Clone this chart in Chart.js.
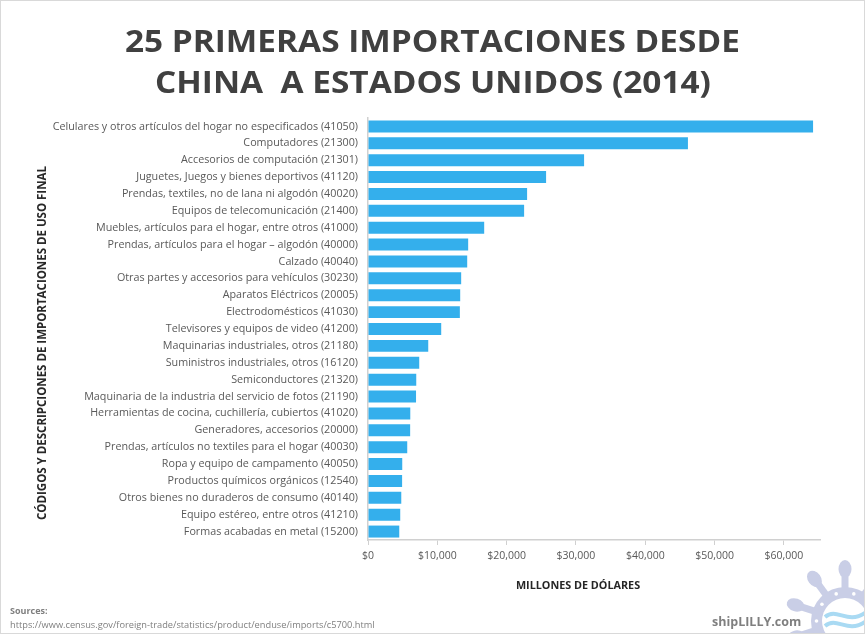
<!DOCTYPE html>
<html>
<head>
<meta charset="utf-8">
<script src="https://cdn.jsdelivr.net/npm/chart.js@4"></script>
<style>
  body { margin: 0; background: #fff; }
  #wrap { position: relative; width: 865px; height: 634px; overflow: hidden; font-family: "Open Sans", sans-serif; }
  #wrap canvas { position: absolute; left: 0; top: 0; }
  #frame { position: absolute; left: 0; top: 0; width: 863px; height: 632px; border: 1px solid #d9d9d9; pointer-events: none; }
  .title { position: absolute; left: 0; width: 865px; text-align: center; font-weight: 700; font-size: 31px; line-height: 42px; color: #404040; white-space: nowrap; }
  .title span { display: inline-block; transform-origin: center; }
  .axt { position: absolute; font-weight: 700; color: #262626; white-space: nowrap; line-height: 14px; }
  #ytit { left: 42px; top: 343px; font-size: 11.5px; transform: translate(-50%, -50%) rotate(-90deg); }
  #xtit { left: 578px; top: 585px; font-size: 10.8px; transform: translate(-50%, -50%); }
  #src1 { position: absolute; left: 10px; top: 604px; font-size: 9px; font-weight: 700; color: #7f7f7f; }
  #src2 { position: absolute; left: 10px; top: 618px; font-size: 9.25px; color: #7f7f7f; }
  #brand { position: absolute; left: 712px; top: 613px; font-size: 12.5px; font-weight: 700; color: #7f7f7f; }
</style>
</head>
<body>
<div id="wrap">
  <canvas id="chart"></canvas>
  <div class="title" style="top:19px"><span id="t1">25 PRIMERAS IMPORTACIONES DESDE</span></div>
  <div class="title" style="top:60px"><span id="t2">CHINA&nbsp; A ESTADOS UNIDOS (2014)</span></div>
  <div class="axt" id="ytit">CÓDIGOS Y DESCRIPCIONES DE IMPORTACIONES DE USO FINAL</div>
  <div class="axt" id="xtit">MILLONES DE DÓLARES</div>
  <div id="src1">Sources:</div>
  <div id="src2">https://www.census.gov/foreign-trade/statistics/product/enduse/imports/c5700.html</div>
  <div id="brand">shipLILLY.com</div>
  <div id="frame"></div>
</div>
<script>
// categorías (descripción + código de uso final)
const nombres = [
  "Celulares y otros artículos del hogar no especificados",
  "Computadores",
  "Accesorios de computación",
  "Juguetes, Juegos y bienes deportivos",
  "Prendas, textiles, no de lana ni algodón",
  "Equipos de telecomunicación",
  "Muebles, artículos para el hogar, entre otros",
  "Prendas, artículos para el hogar – algodón",
  "Calzado",
  "Otras partes y accesorios para vehículos",
  "Aparatos Eléctricos",
  "Electrodomésticos",
  "Televisores y equipos de video",
  "Maquinarias industriales, otros",
  "Suministros industriales, otros",
  "Semiconductores",
  "Maquinaria de la industria del servicio de fotos",
  "Herramientas de cocina, cuchillería, cubiertos",
  "Generadores, accesorios",
  "Prendas, artículos no textiles para el hogar",
  "Ropa y equipo de campamento",
  "Productos químicos orgánicos",
  "Otros bienes no duraderos de consumo",
  "Equipo estéreo, entre otros",
  "Formas acabadas en metal"
];
const codigos = [41050, 21300, 21301, 41120, 40020, 21400, 41000, 40000, 40040, 30230,
  20005, 41030, 41200, 21180, 16120, 21320, 21190, 41020, 20000, 40030,
  40050, 12540, 40140, 41210, 15200];
// millones de dólares
const valores = [64200, 46150, 31170, 25690, 22950, 22520, 16760, 14450, 14310, 13440,
  13300, 13250, 10560, 8690, 7390, 6960, 6930, 6100, 6080, 5660,
  4940, 4920, 4800, 4650, 4510];
// marcas del eje x
const ticksX = [0, 10000, 20000, 30000, 40000, 50000, 60000];
const ejeMax = 65200;

const etiquetas = nombres.map((n, i) => `${n} (${codigos[i]})`);

// título condensado: ajusta el ancho como en el original
const t1 = document.getElementById("t1"), t2 = document.getElementById("t2");
const sx = 615 / t1.getBoundingClientRect().width;
t1.style.transform = t2.style.transform = `scaleX(${sx})`;

// timón del logo, de fondo
const timon = {
  id: "timon",
  beforeDraw(chart) {
    const ctx = chart.ctx, cx = 845, cy = 621;
    ctx.save();
    ctx.fillStyle = "#c9cee6";
    ctx.strokeStyle = "#c9cee6";
    for (let k = 0; k < 10; k++) {
      const a = (-90 + k * 36) * Math.PI / 180;
      ctx.lineWidth = 7;
      ctx.beginPath();
      ctx.moveTo(cx, cy);
      ctx.lineTo(cx + Math.cos(a) * 50, cy + Math.sin(a) * 50);
      ctx.stroke();
      ctx.beginPath();
      ctx.ellipse(cx + Math.cos(a) * 52, cy + Math.sin(a) * 52, 6.5, 9, a + Math.PI / 2, 0, Math.PI * 2);
      ctx.fill();
    }
    ctx.beginPath(); ctx.arc(cx, cy, 34, 0, Math.PI * 2); ctx.fill();
    ctx.fillStyle = "#fff";
    ctx.beginPath(); ctx.arc(cx, cy, 23, 0, Math.PI * 2); ctx.fill();
    for (let k = 0; k < 10; k++) {
      const a = (-72 + k * 36) * Math.PI / 180;
      ctx.beginPath(); ctx.arc(cx + Math.cos(a) * 28.5, cy + Math.sin(a) * 28.5, 1.8, 0, Math.PI * 2); ctx.fill();
    }
    ctx.strokeStyle = "#a9daf3";
    ctx.lineWidth = 4;
    for (let j = 0; j < 2; j++) {
      ctx.beginPath();
      ctx.moveTo(cx - 20, cy - 4 + j * 9);
      ctx.bezierCurveTo(cx - 8, cy - 14 + j * 9, cx + 2, cy + 4 + j * 9, cx + 20, cy - 8 + j * 9);
      ctx.stroke();
    }
    ctx.restore();
  }
};

new Chart(document.getElementById("chart"), {
  type: "bar",
  data: {
    labels: etiquetas,
    datasets: [{
      data: valores,
      backgroundColor: "#34afec",
      borderWidth: 0,
      categoryPercentage: 1,
      barPercentage: 0.71
    }]
  },
  options: {
    indexAxis: "y",
    responsive: true,
    maintainAspectRatio: false,
    animation: false,
    layout: { padding: { top: 118, left: 36, right: 45, bottom: 43 } },
    plugins: { legend: { display: false }, tooltip: { enabled: false } },
    scales: {
      x: {
        min: 0,
        max: ejeMax,
        afterBuildTicks: s => { s.ticks = ticksX.map(v => ({ value: v })); },
        afterFit: s => { s.height = 51; },
        ticks: {
          autoSkip: false,
          color: "#595959",
          font: { family: "Open Sans", size: 10.5 },
          padding: 5,
          maxRotation: 0,
          callback: v => "$" + Number(v).toLocaleString("en-US")
        },
        grid: { drawOnChartArea: false, drawTicks: true, tickLength: 5, color: "#d0d0d0" },
        border: { display: true, color: "#d0d0d0", width: 1.5 }
      },
      y: {
        afterFit: s => { s.width = 368 - 36; },
        ticks: {
          color: "#595959",
          font: { family: "Open Sans", size: 10.75 },
          padding: 10,
          autoSkip: false
        },
        grid: { display: false, drawTicks: false },
        border: { display: true, color: "#d0d0d0", width: 1.5 }
      }
    }
  },
  plugins: [timon]
});
</script>
</body>
</html>
